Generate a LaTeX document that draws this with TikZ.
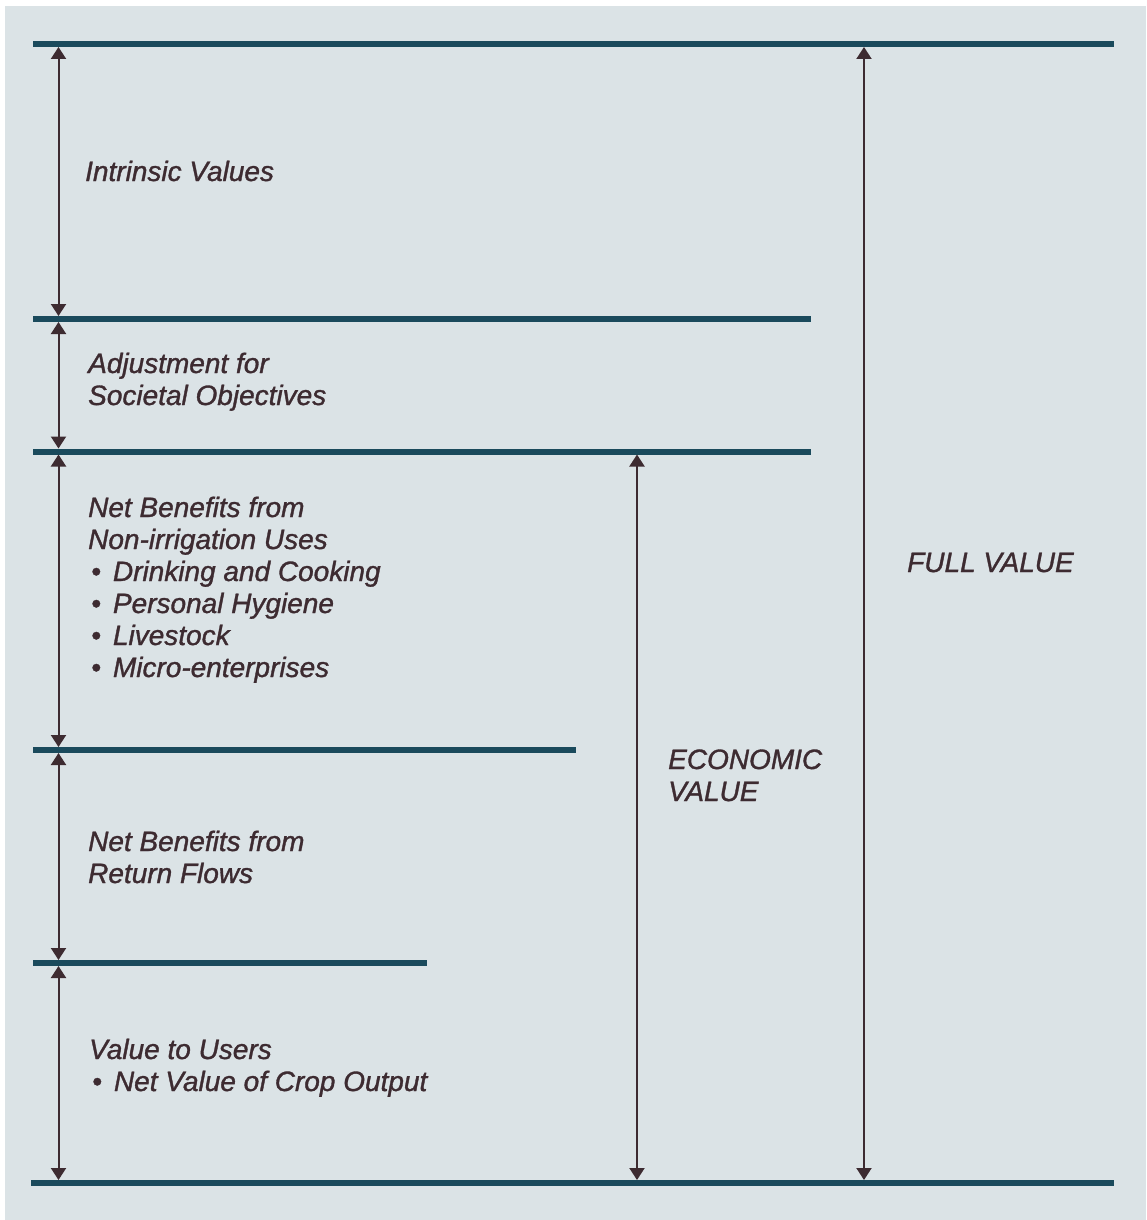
\documentclass[tikz,border=0pt]{standalone}
\usepackage{fontspec}
\setmainfont{Liberation Sans}[ItalicFeatures={FakeBold=1.2}]
\usetikzlibrary{arrows.meta}
\definecolor{bgc}{HTML}{DBE3E6}
\definecolor{barc}{HTML}{1A4A5C}
\definecolor{inkc}{HTML}{3D2B31}
\newcommand\lines[1]{\begin{tabular}[t]{@{}l@{}}#1\end{tabular}}
\newcommand\itm{\hspace*{3pt}•\hspace{12pt}}
\tikzset{
  bar/.style={barc, line width=6pt},
  dim/.style={inkc, line width=2pt, {Triangle[width=15pt,length=12pt]}-{Triangle[width=15pt,length=12pt]}},
  lbl/.style={inkc, anchor=base west, inner sep=0pt,
    font=\fontsize{28}{32}\selectfont\itshape}
}
\begin{document}
\begin{tikzpicture}[x=1pt,y=-1pt]
\useasboundingbox (0,0) rectangle (1146,1220);
\fill[bgc] (5,6) rectangle (1146,1220);
% bars
\coordinate (a1) at (33,44);   \coordinate (b1) at (1114,44);
\coordinate (a2) at (33,319);  \coordinate (b2) at (811,319);
\coordinate (a3) at (33,451.5);\coordinate (b3) at (811,451.5);
\coordinate (a4) at (33,750);  \coordinate (b4) at (576,750);
\coordinate (a5) at (33,963);  \coordinate (b5) at (427,963);
\coordinate (a6) at (31,1183); \coordinate (b6) at (1114,1183);
\draw[bar] (a1) -- (b1);
\draw[bar] (a2) -- (b2);
\draw[bar] (a3) -- (b3);
\draw[bar] (a4) -- (b4);
\draw[bar] (a5) -- (b5);
\draw[bar] (a6) -- (b6);
% arrow end points
\coordinate (l1) at (58.5,47);   \coordinate (l2t) at (58.5,316);
\coordinate (l2b) at (58.5,322); \coordinate (l3t) at (58.5,448.5);
\coordinate (l3b) at (58.5,454.5); \coordinate (l4t) at (58.5,747);
\coordinate (l4b) at (58.5,753); \coordinate (l5t) at (58.5,960);
\coordinate (l5b) at (58.5,966); \coordinate (l6) at (58.5,1180);
\coordinate (e1) at (637,454.5); \coordinate (e2) at (637,1180);
\coordinate (f1) at (864,47);    \coordinate (f2) at (864,1180);
\draw[dim] (l1) -- (l2t);
\draw[dim] (l2b) -- (l3t);
\draw[dim] (l3b) -- (l4t);
\draw[dim] (l4b) -- (l5t);
\draw[dim] (l5b) -- (l6);
\draw[dim] (e1) -- (e2);
\draw[dim] (f1) -- (f2);
% labels
\node[lbl] (intr) at (85,181) {Intrinsic Values};
\node[lbl] (adj) at (88,373) {\lines{Adjustment for\\Societal Objectives}};
\node[lbl] (nonirr) at (88,517) {\lines{Net Benefits from\\Non-irrigation Uses\\
  \itm Drinking and Cooking\\
  \itm Personal Hygiene\\
  \itm Livestock\\
  \itm Micro-enterprises}};
\node[lbl] (ret) at (88,851) {\lines{Net Benefits from\\Return Flows}};
\node[lbl] (users) at (89,1059) {\lines{Value to Users\\
  \itm Net Value of Crop Output}};
\node[lbl] (econ) at (668,769) {\lines{ECONOMIC\\VALUE}};
\node[lbl] (full) at (907,572) {FULL VALUE};
\end{tikzpicture}
\end{document}
